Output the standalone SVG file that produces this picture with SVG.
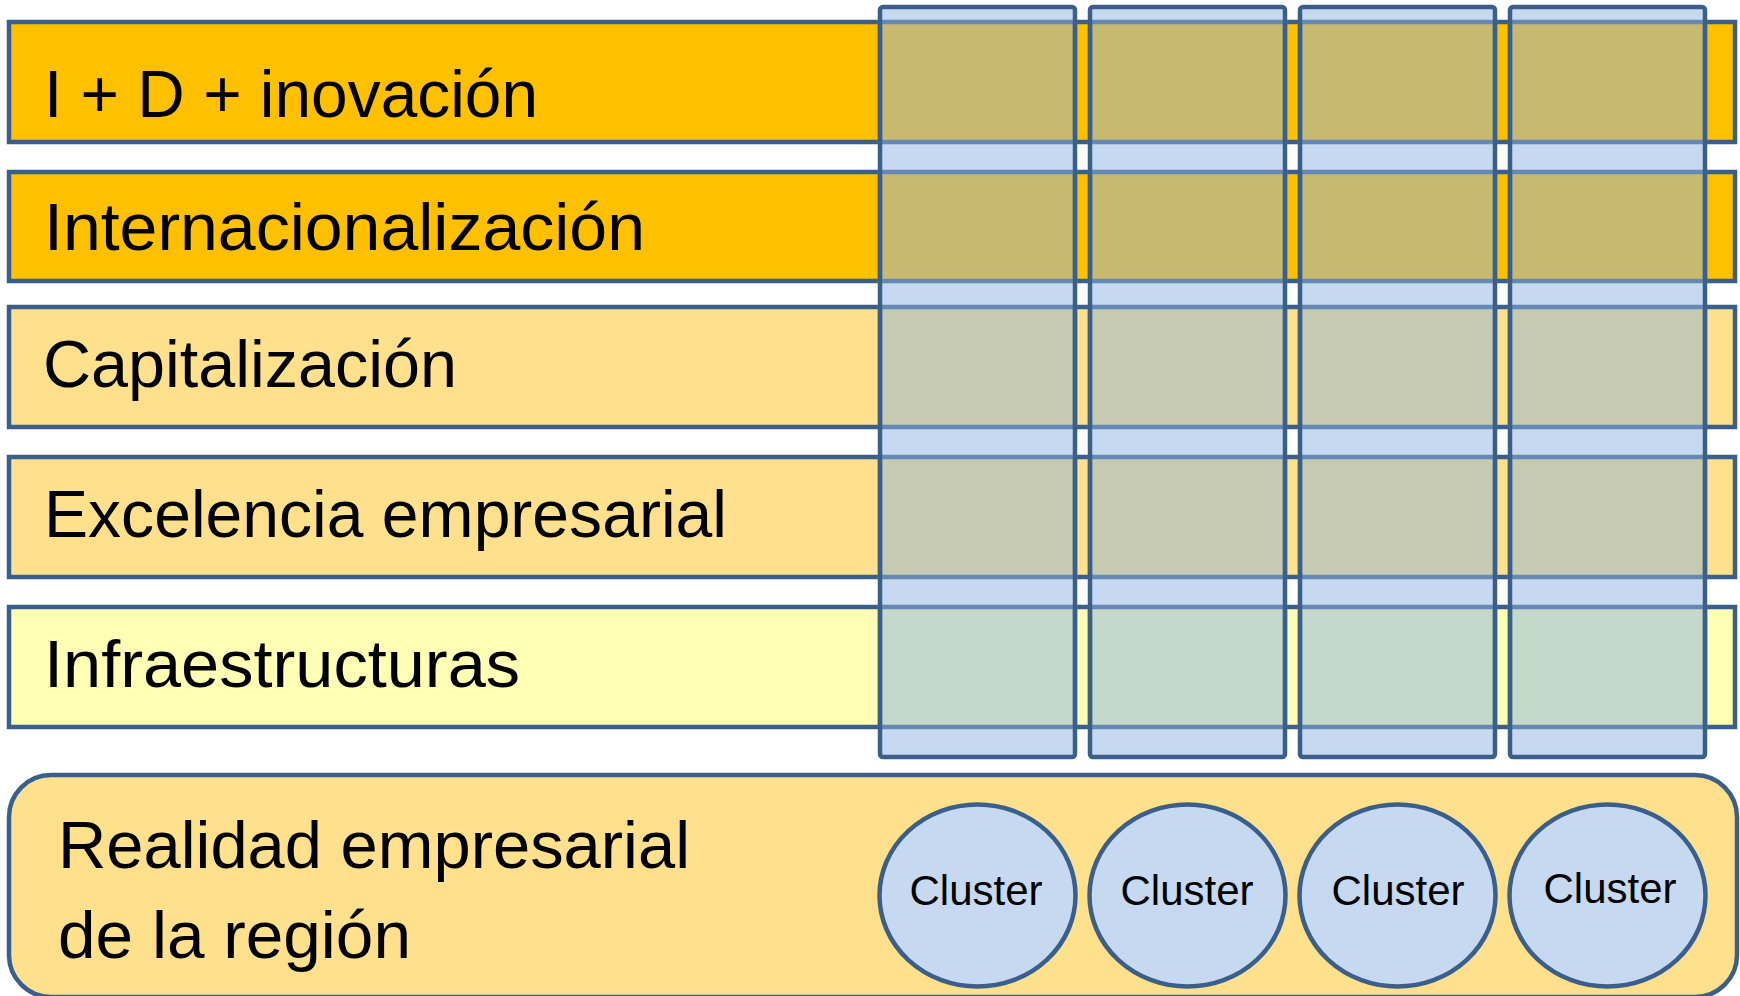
<svg xmlns="http://www.w3.org/2000/svg" width="1740" height="996" viewBox="0 0 1740 996">
<style>
.row{stroke:#3A5F8B;stroke-width:4.5}
.o{fill:#FFC000}
.l{fill:#FFE08C}
.y{fill:#FEFFB4}
.lbl{font-family:"Liberation Sans",Arial,sans-serif;font-size:66px;fill:#000}
.colbg{fill:#C6D9F1}
.cell{stroke:#6588B5;stroke-width:4.5}
.co{fill:#C7B970}
.cl{fill:#C6CAB0}
.cy{fill:#C5D9CA}
.colout{fill:none;stroke:#3A5F8B;stroke-width:4.5}
.cl-ell{fill:#C6D9F1;stroke:#3A5F8B;stroke-width:4.5}
.ct{font-family:"Liberation Sans",Arial,sans-serif;font-size:42px;fill:#000;text-anchor:middle}
</style>
<defs>
<g id="cells">
<rect class="colbg" x="0" y="7" width="195" height="750"/>
<rect class="cell co" x="0" y="22" width="195" height="120"/>
<rect class="cell co" x="0" y="172" width="195" height="109"/>
<rect class="cell cl" x="0" y="307" width="195" height="120"/>
<rect class="cell cl" x="0" y="457" width="195" height="120"/>
<rect class="cell cy" x="0" y="607" width="195" height="120"/>
<rect class="colout" x="0" y="7" width="195" height="750" rx="3"/>
</g>
</defs>
<g id="rows">
<g id="row-id"><rect class="row o" x="9" y="22" width="1726" height="120"/><text class="lbl" x="44" y="117" textLength="494" lengthAdjust="spacingAndGlyphs">I + D + inovación</text></g>
<g id="row-intl"><rect class="row o" x="9" y="172" width="1726" height="109"/><text class="lbl" x="44" y="250" textLength="601" lengthAdjust="spacingAndGlyphs">Internacionalización</text></g>
<g id="row-cap"><rect class="row l" x="9" y="307" width="1726" height="120"/><text class="lbl" x="43" y="387" textLength="414" lengthAdjust="spacingAndGlyphs">Capitalización</text></g>
<g id="row-exc"><rect class="row l" x="9" y="457" width="1726" height="120"/><text class="lbl" x="44" y="537" textLength="683" lengthAdjust="spacingAndGlyphs">Excelencia empresarial</text></g>
<g id="row-inf"><rect class="row y" x="9" y="607" width="1726" height="120"/><text class="lbl" x="44" y="687" textLength="476" lengthAdjust="spacingAndGlyphs">Infraestructuras</text></g>
</g>
<g id="columns">
<use id="col1" href="#cells" x="880"/>
<use id="col2" href="#cells" x="1090"/>
<use id="col3" href="#cells" x="1300"/>
<use id="col4" href="#cells" x="1510"/>
</g>
<g id="base">
<rect class="row l" x="9" y="775" width="1728" height="222" rx="42"/>
<text class="lbl" x="58" y="868" textLength="632" lengthAdjust="spacingAndGlyphs">Realidad empresarial</text>
<text class="lbl" x="58" y="958" textLength="353" lengthAdjust="spacingAndGlyphs">de la región</text>
</g>
<g id="cluster1"><ellipse class="cl-ell" cx="977.5" cy="895.5" rx="98" ry="91"/><text class="ct" x="976" y="905">Cluster</text></g>
<g id="cluster2"><ellipse class="cl-ell" cx="1187.5" cy="895.5" rx="98" ry="91"/><text class="ct" x="1187" y="905">Cluster</text></g>
<g id="cluster3"><ellipse class="cl-ell" cx="1397.5" cy="895.5" rx="98" ry="91"/><text class="ct" x="1398" y="905">Cluster</text></g>
<g id="cluster4"><ellipse class="cl-ell" cx="1607.5" cy="895.5" rx="98" ry="91"/><text class="ct" x="1610" y="903">Cluster</text></g>
</svg>
